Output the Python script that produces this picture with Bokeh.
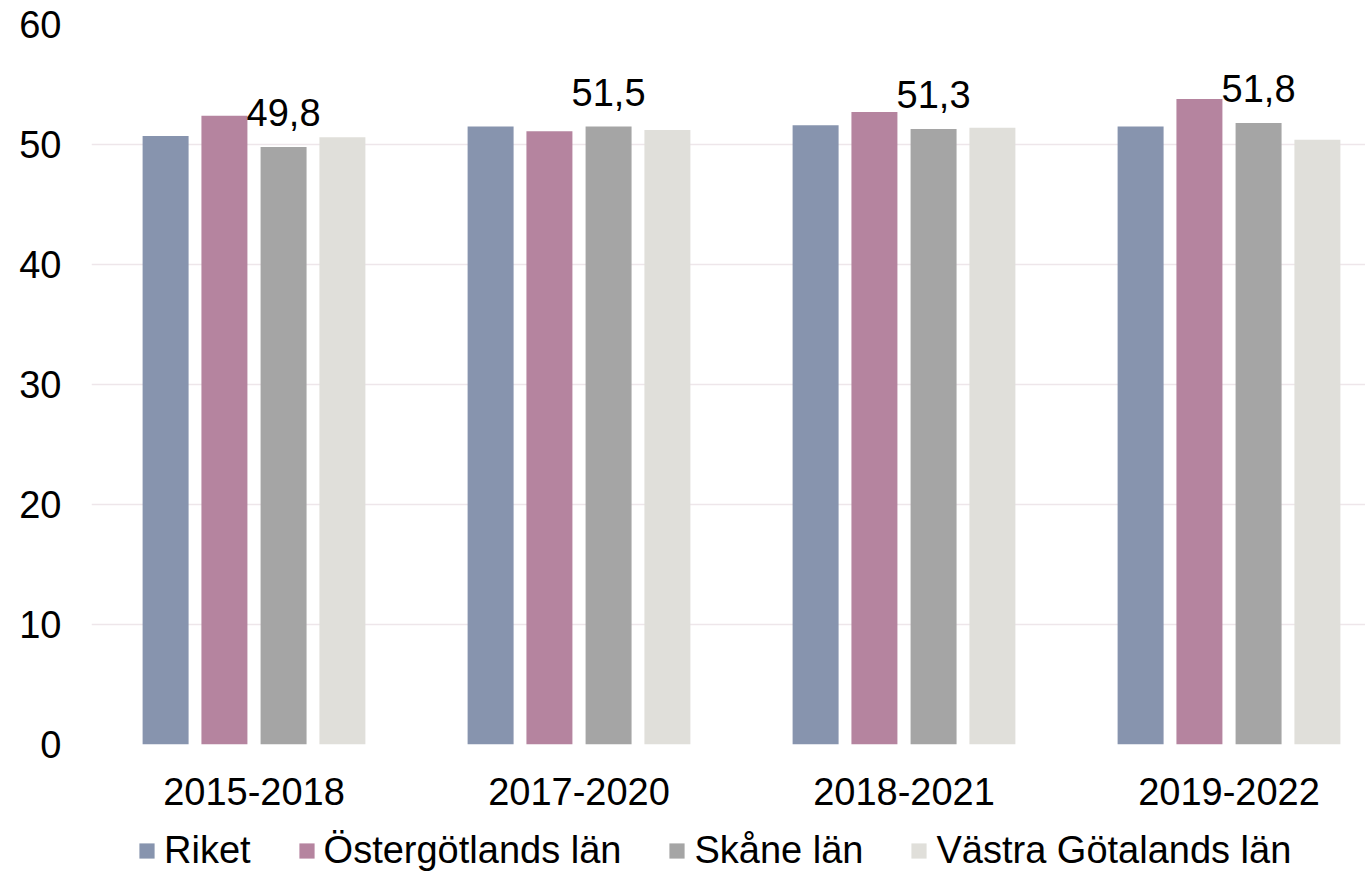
from bokeh.plotting import figure
from bokeh.layouts import column
from bokeh.models import ColumnDataSource, FixedTicker, Legend, LegendItem, Range1d
from bokeh.core.properties import value
from bokeh.embed import file_html
from bokeh.resources import INLINE

periods = ["2015-2018", "2017-2020", "2018-2021", "2019-2022"]
series = ["Riket", "Östergötlands län", "Skåne län", "Västra Götalands län"]
riket = [50.7, 51.5, 51.6, 51.5]
ostergotland = [52.4, 51.1, 52.7, 53.8]
skane = [49.8, 51.5, 51.3, 51.8]
vastra = [50.6, 51.2, 51.4, 50.4]
colors = ["#8794AE", "#B5849F", "#A5A5A5", "#E0DFDA"]
offsets = [-0.272, -0.091, 0.091, 0.272]
y_ticks = [0, 10, 20, 30, 40, 50, 60]

FONT = "Liberation Sans"

p = figure(width=1365, height=818, output_backend="svg", toolbar_location=None,
           x_range=Range1d(-0.5, 3.42), y_range=Range1d(0, 60),
           min_border_left=91, min_border_top=24, min_border_right=0, min_border_bottom=74)
p.outline_line_color = None
p.background_fill_color = "white"
p.border_fill_color = "white"

xs = list(range(len(periods)))
for name, vals, col, off in zip(series, [riket, ostergotland, skane, vastra], colors, offsets):
    src = ColumnDataSource(dict(x=[i + off for i in xs], top=vals))
    p.vbar(x="x", top="top", width=0.1415, bottom=0, source=src, fill_color=col, line_color=None)

# data labels for Skåne län
lab_src = ColumnDataSource(dict(x=[i + offsets[2] for i in xs], y=skane,
                                t=[f"{v:.1f}".replace(".", ",") for v in skane]))
p.text(x="x", y="y", text="t", source=lab_src, text_align="center", text_baseline="bottom",
       y_offset=-21, text_font=value(FONT), text_font_size="38px", text_color="black")

p.xaxis.ticker = FixedTicker(ticks=xs)
p.xaxis.major_label_overrides = {i: lab for i, lab in enumerate(periods)}
p.yaxis.ticker = FixedTicker(ticks=y_ticks)
for ax in [p.xaxis[0], p.yaxis[0]]:
    ax.axis_line_color = None
    ax.major_tick_line_color = None
    ax.minor_tick_line_color = None
    ax.major_tick_out = 0
    ax.major_label_text_font = FONT
    ax.major_label_text_font_size = "38px"
    ax.major_label_text_color = "black"
p.xaxis.major_label_standoff = 33
p.yaxis.major_label_standoff = 30

p.xgrid.grid_line_color = None
p.ygrid.grid_line_color = "#EEE6EA"
p.ygrid.grid_line_width = 1.5
p.ygrid.ticker = FixedTicker(ticks=y_ticks)

# legend strip below the chart
lg = figure(width=1365, height=54, output_backend="svg", toolbar_location=None,
            x_range=Range1d(0, 1), y_range=Range1d(0, 1),
            min_border_left=0, min_border_top=0, min_border_right=0, min_border_bottom=0,
            x_axis_location=None, y_axis_location=None)
lg.outline_line_color = None
lg.xgrid.visible = False
lg.ygrid.visible = False
items = []
for name, col in zip(series, colors):
    # swatch renderer kept outside the visible range; used only for the legend key
    r = lg.vbar(x=[10], top=[1], width=0.1, fill_color=col, line_color=None)
    items.append(LegendItem(label=name, renderers=[r]))
legend = Legend(items=items, orientation="horizontal", location=(46, 0),
                label_text_font=FONT, label_text_font_size="38px", label_text_color="black",
                glyph_width=19, glyph_height=19, spacing=46, label_standoff=8,
                border_line_alpha=0, background_fill_alpha=0, padding=0, margin=0)
lg.add_layout(legend, "center")

open("out.html", "w").write(file_html(column(p, lg, spacing=0), INLINE))
